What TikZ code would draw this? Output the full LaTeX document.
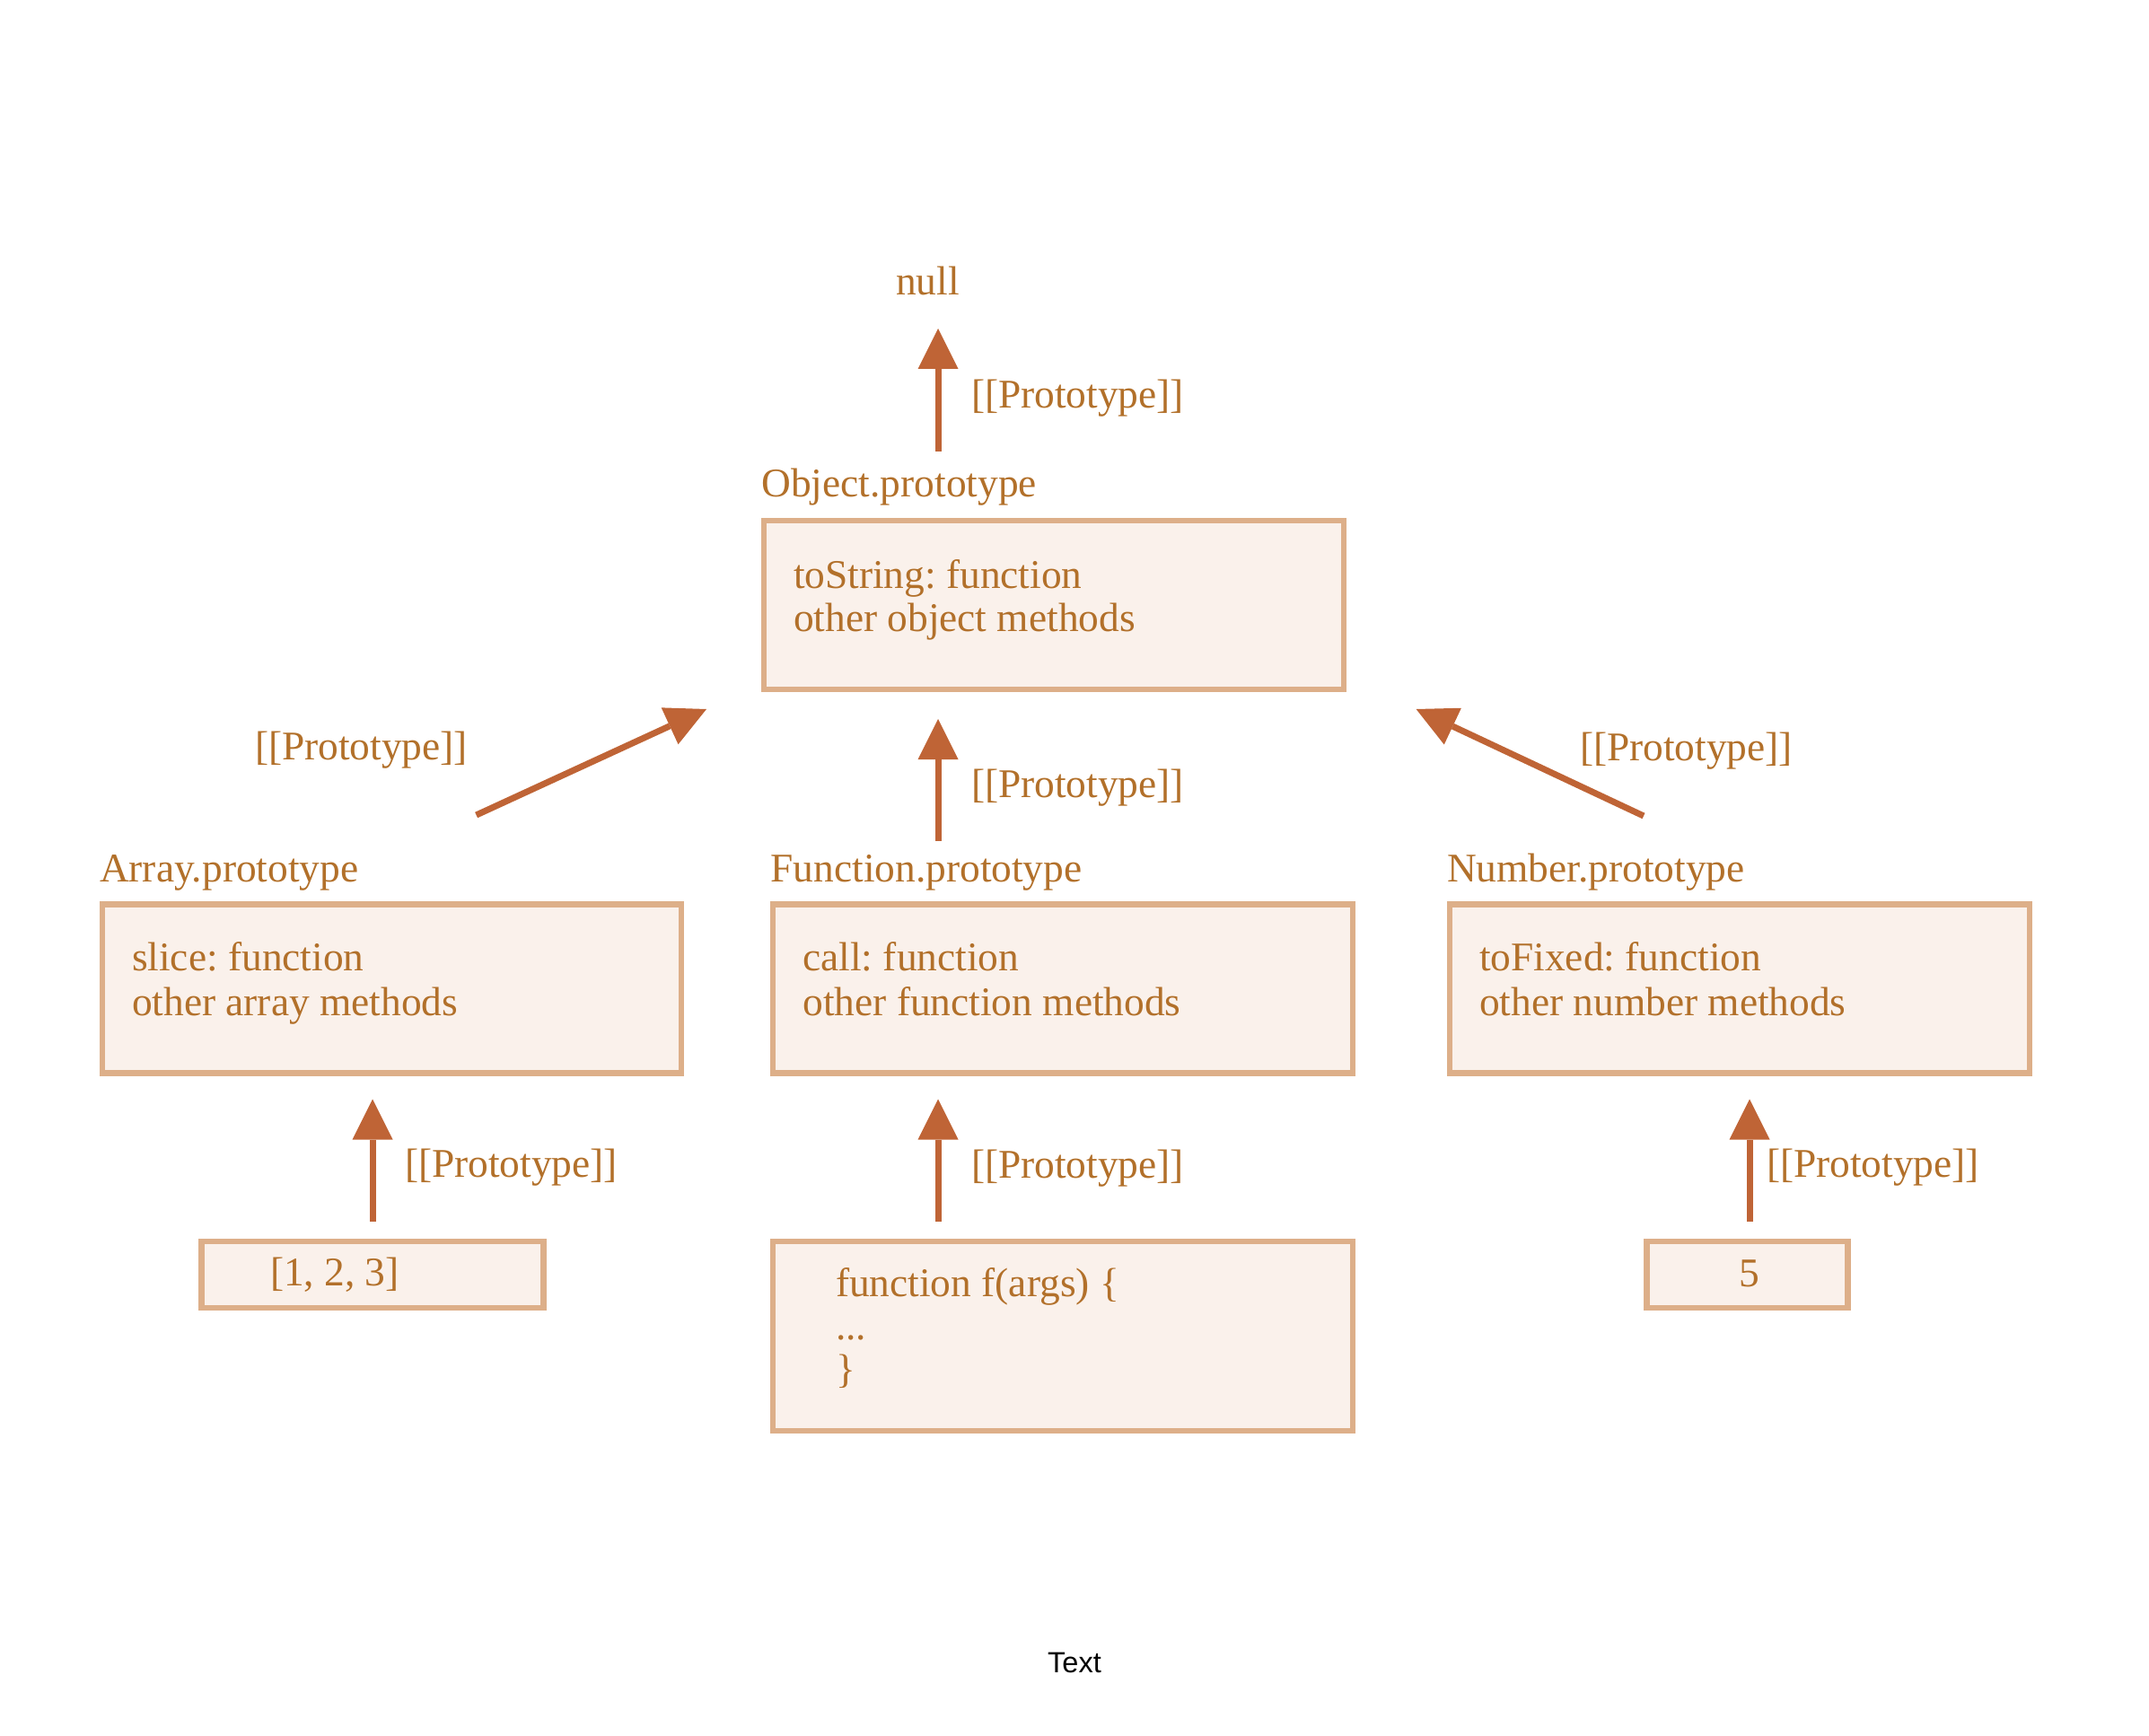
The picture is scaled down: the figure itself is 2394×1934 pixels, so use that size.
\documentclass[tikz,border=0pt]{standalone}
\usepackage{fontspec}
\setmainfont{Liberation Serif}
\newfontfamily\capsans{Liberation Sans}
\usetikzlibrary{arrows.meta}
\definecolor{txtc}{RGB}{178,112,42}
\definecolor{arrc}{RGB}{191,100,54}
\definecolor{boxc}{RGB}{221,175,137}
\definecolor{boxfill}{RGB}{250,241,235}
\frenchspacing
\begin{document}
\begin{tikzpicture}[x=1pt,y=-1pt,
  lbl/.style={anchor=base west, inner sep=0pt, outer sep=0pt, text=txtc, font=\fontsize{45.4}{54}\selectfont},
  protobox/.style={draw=boxc, fill=boxfill, line width=6.6pt, inner sep=0pt, outer sep=0pt},
  protoarrow/.style={draw=arrc, line width=7pt, -{Triangle[length=45pt,width=45pt,line width=0pt]}}]
\useasboundingbox (0,0) rectangle (2394,1934);

% boxes
\node[protobox, minimum width=646pt, minimum height=188pt] (obj) at (1174,674) {};
\node[protobox, minimum width=645pt, minimum height=188pt] (arr) at (436.3,1101.5) {};
\node[protobox, minimum width=646pt, minimum height=188pt] (fun) at (1183.8,1101.5) {};
\node[protobox, minimum width=646pt, minimum height=188pt] (num) at (1937.9,1101.5) {};
\node[protobox, minimum width=381pt, minimum height=74pt] (arrv) at (415,1419.8) {};
\node[protobox, minimum width=646pt, minimum height=211pt] (funv) at (1183.8,1488.3) {};
\node[protobox, minimum width=224pt, minimum height=74pt] (numv) at (1946.2,1419.8) {};

% texts
\node[lbl] (nulltxt) at (998,329) {null};
\node[lbl] (objtitle) at (848.5,553.6) {Object.prototype};
\node[lbl] (objl1) at (884,655.6) {toString: function};
\node[lbl] (objl2) at (884,703) {other object methods};
\node[lbl] (arrtitle) at (111,982) {Array.prototype};
\node[lbl] (arrl1) at (147,1081.6) {slice: function};
\node[lbl] (arrl2) at (147,1131) {other array methods};
\node[lbl] (funtitle) at (858.7,982) {Function.prototype};
\node[lbl] (funl1) at (894.4,1081.6) {call: function};
\node[lbl] (funl2) at (894.4,1131) {other function methods};
\node[lbl] (numtitle) at (1612,982) {Number.prototype};
\node[lbl] (numl1) at (1648,1081.6) {toFixed: function};
\node[lbl] (numl2) at (1648,1131) {other number methods};
\node[lbl] (arrvtxt) at (301,1432.6) {[1, 2, 3]};
\node[lbl] (funv1) at (931,1444) {function f(args) \{};
\node[lbl] (funv2) at (931,1492) {...};
\node[lbl] (funv3) at (931,1540) {\}};
\node[lbl, anchor=base] (numvtxt) at (1949,1433.7) {5};

% prototype labels
\node[lbl] (p1) at (1082,454) {[[Prototype]]};
\node[lbl] (p2) at (1082,888) {[[Prototype]]};
\node[lbl] (p3) at (284,846) {[[Prototype]]};
\node[lbl] (p4) at (1760,847) {[[Prototype]]};
\node[lbl] (p5) at (451,1311) {[[Prototype]]};
\node[lbl] (p6) at (1082,1312) {[[Prototype]]};
\node[lbl] (p7) at (1968,1311) {[[Prototype]]};

% caption
\node[anchor=base, inner sep=0pt, font=\capsans\fontsize{32.5}{38}\selectfont] (cap) at (1197,1863) {Text};

% arrow end points
\coordinate (a1s) at (1045,502.5);
\coordinate (a1e) at (1045,366);
\coordinate (a2s) at (1045,937);
\coordinate (a2e) at (1045,801);
\coordinate (a3s) at (530.6,908);
\coordinate (a3e) at (787,790);
\coordinate (a4s) at (1831,909);
\coordinate (a4e) at (1577.6,790);
\coordinate (a5s) at (415,1361);
\coordinate (a5e) at (415,1224.5);
\coordinate (a6s) at (1045,1361);
\coordinate (a6e) at (1045,1224.5);
\coordinate (a7s) at (1949,1361);
\coordinate (a7e) at (1949,1224.5);

\draw[protoarrow] (a1s) -- (a1e);
\draw[protoarrow] (a2s) -- (a2e);
\draw[protoarrow] (a3s) -- (a3e);
\draw[protoarrow] (a4s) -- (a4e);
\draw[protoarrow] (a5s) -- (a5e);
\draw[protoarrow] (a6s) -- (a6e);
\draw[protoarrow] (a7s) -- (a7e);
\end{tikzpicture}
\end{document}
